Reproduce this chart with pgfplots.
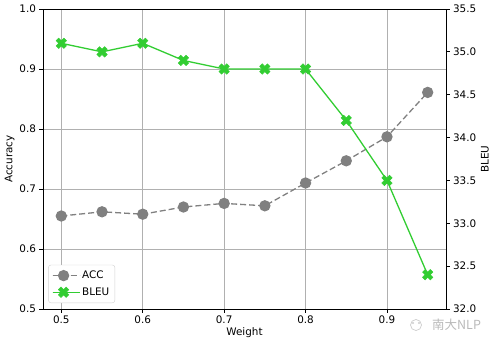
\documentclass[border=0pt]{standalone}
\usepackage{pgfplots}
\pgfplotsset{compat=1.18}
\usepackage{fontspec}
\setmainfont{DejaVu Sans}
\newfontfamily\cjk{Noto Sans CJK SC}
\definecolor{accgray}{RGB}{128,128,128}
\definecolor{bleugreen}{RGB}{50,205,50}
\definecolor{gridgray}{RGB}{176,176,176}

\pgfdeclareplotmark{Xf}{%
  \pgftransformrotate{45}%
  \pgfpathmoveto{\pgfpoint{-0.333\pgfplotmarksize}{-\pgfplotmarksize}}%
  \pgfpathlineto{\pgfpoint{0.333\pgfplotmarksize}{-\pgfplotmarksize}}%
  \pgfpathlineto{\pgfpoint{0.333\pgfplotmarksize}{-0.333\pgfplotmarksize}}%
  \pgfpathlineto{\pgfpoint{\pgfplotmarksize}{-0.333\pgfplotmarksize}}%
  \pgfpathlineto{\pgfpoint{\pgfplotmarksize}{0.333\pgfplotmarksize}}%
  \pgfpathlineto{\pgfpoint{0.333\pgfplotmarksize}{0.333\pgfplotmarksize}}%
  \pgfpathlineto{\pgfpoint{0.333\pgfplotmarksize}{\pgfplotmarksize}}%
  \pgfpathlineto{\pgfpoint{-0.333\pgfplotmarksize}{\pgfplotmarksize}}%
  \pgfpathlineto{\pgfpoint{-0.333\pgfplotmarksize}{0.333\pgfplotmarksize}}%
  \pgfpathlineto{\pgfpoint{-\pgfplotmarksize}{0.333\pgfplotmarksize}}%
  \pgfpathlineto{\pgfpoint{-\pgfplotmarksize}{-0.333\pgfplotmarksize}}%
  \pgfpathlineto{\pgfpoint{-0.333\pgfplotmarksize}{-0.333\pgfplotmarksize}}%
  \pgfpathclose
  \pgfusepathqfillstroke
}

\pgfplotsset{
  common/.style={
    at={(0pt,0pt)}, anchor=south west, scale only axis,
    width=403pt, height=300pt,
    xmin=0.4775, xmax=0.9725,
    tick align=outside,
    major tick length=3.5pt,
    tick style={black, line width=0.8pt},
    axis line style={line width=0.8pt},
    /pgf/number format/assume math mode=true,
    ticklabel style={/pgf/number format/fixed, /pgf/number format/fixed zerofill, /pgf/number format/precision=1},
  },
  accstyle/.style={accgray, line width=1.3pt, dash pattern=on 6pt off 3pt, mark=*, mark size=5pt, mark options={solid, fill=accgray, draw=accgray}},
  bleustyle/.style={bleugreen, line width=1.3pt, mark=Xf, mark size=5.5pt, mark options={solid, fill=bleugreen, draw=bleugreen, line width=0.5pt}},
}

\begin{document}
\begin{tikzpicture}[font=\fontsize{10.4}{12.5}\selectfont]
\begin{axis}[common,
  ymin=0.5, ymax=1.0,
  xtick={0.5,0.6,0.7,0.8,0.9},
  ytick={0.5,0.6,0.7,0.8,0.9,1.0},
  xtick pos=bottom, ytick pos=left,
  grid=major, major grid style={gridgray, line width=0.8pt},
  xlabel={Weight}, ylabel={Accuracy},
  xlabel style={yshift=3pt},
  ylabel style={yshift=-2pt},
]
\addplot[accstyle] coordinates {
(0.50,0.655) (0.55,0.662) (0.60,0.658) (0.65,0.670) (0.70,0.676)
(0.75,0.672) (0.80,0.710) (0.85,0.747) (0.90,0.787) (0.95,0.861)};
\end{axis}
\begin{axis}[common,
  hide x axis, axis y line*=right,
  ymin=32, ymax=35.5,
  ytick={32,32.5,33,33.5,34,34.5,35,35.5},
  ylabel={BLEU},
  ylabel style={yshift=2pt},
  legend style={at={(0.013,0.02)}, anchor=south west, draw=gray!35, rounded corners=2.5pt,
    font=\fontsize{10.4}{12.5}\selectfont, row sep=3.5pt, inner xsep=3.5pt, inner ysep=4pt},
  legend cell align=left,
  legend image code/.code={\path (0pt,0pt) -- (27pt,0pt); \draw[#1] (0pt,0pt) -- (22pt,0pt); \draw[#1, draw=none] plot coordinates {(11pt,0pt)};},
]
\addlegendimage{accstyle}
\addlegendentry{ACC}
\addplot[bleustyle] coordinates {
(0.50,35.1) (0.55,35.0) (0.60,35.1) (0.65,34.9) (0.70,34.8)
(0.75,34.8) (0.80,34.8) (0.85,34.2) (0.90,33.5) (0.95,32.4)};
\addlegendentry{BLEU}
\end{axis}
\draw[gray!40, line width=0.7pt] (373pt,-16pt) circle (5.5pt);
\draw[gray!40, line width=0.7pt] (370pt,-14pt) circle (0.6pt) (376pt,-14pt) circle (0.6pt);
\node[text=gray!55, font=\cjk\fontsize{12.5}{14}\selectfont, anchor=west, inner sep=0pt] at (389pt,-16pt) {南大NLP};
\pgfresetboundingbox
\path[use as bounding box] (-43pt,-37pt) rectangle (455pt,309pt);
\end{tikzpicture}
\end{document}
